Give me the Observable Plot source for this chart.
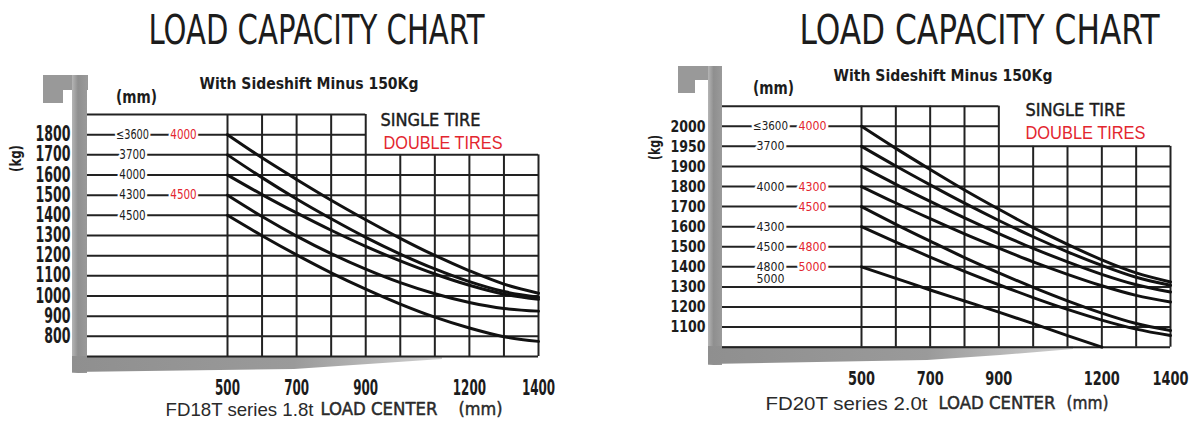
<!DOCTYPE html>
<html><head><meta charset="utf-8">
<script src="https://cdn.jsdelivr.net/npm/d3@7"></script>
<script src="https://cdn.jsdelivr.net/npm/@observablehq/plot@0.6"></script>
<style>
body{margin:0;background:#fff;}
#wrap{position:relative;width:1192px;height:421px;overflow:hidden;background:#fff;}
.panel{position:absolute;top:0;width:596px;height:421px;}
.panel svg{position:absolute;left:0;top:0;}
.g{position:absolute;background:#999;}
</style></head><body><div id="wrap">
<div class="g" style="left:43px;top:75px;width:45px;height:15px"></div>
<div class="g" style="left:43px;top:75px;width:20px;height:28px"></div>
<div class="g" style="left:72px;top:75px;width:15px;height:298px;background:linear-gradient(90deg,#b5b5b5,#8f8f8f 40%,#9a9a9a)"></div>
<div class="g" style="left:72px;top:356px;width:370px;height:16px;background:linear-gradient(90deg,#8f8f8f,#9a9a9a 60%,#d0d0d0);clip-path:polygon(0 0,100% 0,100% 3px,80% 8px,60% 13px,0 16px)"></div>
<div class="g" style="left:678px;top:66px;width:44px;height:14px"></div>
<div class="g" style="left:678px;top:66px;width:17px;height:27px"></div>
<div class="g" style="left:708px;top:66px;width:14px;height:299px;background:linear-gradient(90deg,#b5b5b5,#8f8f8f 40%,#9a9a9a)"></div>
<div class="g" style="left:708px;top:346px;width:365px;height:18px;background:linear-gradient(90deg,#8f8f8f,#9a9a9a 60%,#d0d0d0);clip-path:polygon(0 0,100% 0,100% 3px,80% 9px,60% 14px,0 18px)"></div>
<div class="panel" id="p1" style="left:0"></div>
<div class="panel" id="p2" style="left:596px"></div>
</div>
<script>
const COND = "'DejaVu Sans Condensed','DejaVu Sans',sans-serif";
const ARIAL = "'Liberation Sans',Arial,sans-serif";
const RED = "#e3262f";
const INK = "#1c1c1c";

// ---- data ----
const loadCenters = [500, 600, 700, 800, 900, 1000, 1100, 1200, 1300, 1400];

// FD18T series 1.8t (kg)
const fd18Mast3600 = [1800, 1685, 1578, 1475, 1378, 1286, 1201, 1125, 1059, 1014];
const fd18Mast3700 = [1700, 1587, 1481, 1383, 1291, 1208, 1134, 1071, 1022, 994];
const fd18Mast4000 = [1600, 1503, 1412, 1326, 1246, 1174, 1109, 1053, 1009, 984];
const fd18Mast4300 = [1500, 1394, 1297, 1210, 1133, 1066, 1011, 968, 938, 925];
const fd18Mast4500 = [1400, 1299, 1204, 1115, 1034, 960, 895, 841, 798, 775];

// FD20T series 2.0t (kg)
const fd20Mast3600 = [2000, 1945, 1885, 1783, 1687, 1595, 1512, 1435, 1370, 1325];
const fd20Mast3700 = [1950, 1901, 1808, 1717, 1631, 1550, 1475, 1407, 1348, 1308];
const fd20Row1900 = [1900, 1811, 1726, 1644, 1566, 1492, 1425, 1363, 1311, 1275];
const fd20Mast4000 = [1800, 1718, 1640, 1564, 1493, 1425, 1363, 1306, 1258, 1225];
const fd20Mast4500 = [1700, 1612, 1528, 1446, 1370, 1298, 1231, 1170, 1118, 1083];
const fd20Mast4300 = [1600, 1523, 1449, 1378, 1311, 1247, 1188, 1135, 1090, 1058];
const fd20Mast4800 = [1400, 1343, 1285, 1230, 1175, 1117, 1058, 1000]; // 500..1200

// grids
const fd18RowsUpper = [1800, 1900];
const fd18RowsLower = [700, 800, 900, 1000, 1100, 1200, 1300, 1400, 1500, 1600, 1700];
const fd20Rows = [1000, 1100, 1200, 1300, 1400, 1500, 1600, 1700, 1800, 1900, 1950, 2000, 2050];
const fd20RowsUpper = [2000, 2050];
const fd20RowsLower = [1000, 1100, 1200, 1300, 1400, 1500, 1600, 1700, 1800, 1900, 1950];
const colsTall = [500, 600, 700, 800, 900];
const colsShort = [1000, 1100, 1200, 1300, 1400];

// tick labels
const fd18YTicks = [800, 900, 1000, 1100, 1200, 1300, 1400, 1500, 1600, 1700, 1800];
const fd20YTicks = [1100, 1200, 1300, 1400, 1500, 1600, 1700, 1800, 1900, 1950, 2000];
const xTickLabels = [500, 700, 900, 1200, 1400];

// mast height labels (mm)
const fd18LabelRows = [1800, 1700, 1600, 1500, 1400];
const fd18Single = ["≤3600", "3700", "4000", "4300", "4500"];
const fd18Double = ["4000", "", "", "4500", ""];
const fd20LabelRows = [2000, 1950, 1800, 1700, 1600, 1500, 1400];
const fd20Single = ["≤3600", "3700", "4000", "", "4300", "4500", "4800"];
const fd20Double = ["4000", "", "4300", "4500", "", "4800", "5000"];
const fd20Extra = ["5000"];

function tidy(series) {
  const out = [];
  for (const [name, vals] of series) vals.forEach((v, i) => out.push({mast: name, mm: loadCenters[i], kg: v}));
  return out;
}
const fd18Lines = tidy([["3600", fd18Mast3600], ["3700", fd18Mast3700], ["4000", fd18Mast4000], ["4300", fd18Mast4300], ["4500", fd18Mast4500]]);
const fd20Lines = tidy([["3600", fd20Mast3600], ["3700", fd20Mast3700], ["1900", fd20Row1900], ["4000", fd20Mast4000], ["4500", fd20Mast4500], ["4300", fd20Mast4300], ["4800", fd20Mast4800]]);

const grid = {stroke: "#222", strokeWidth: 2};
const lab = (rows, texts) => rows.map((r, i) => ({kg: r, t: texts[i]})).filter(d => d.t);

function build(o) {
  const fl = o.frameLeft, ft = o.frameTop;
  const xOpts = {domain: [500, 1400], range: o.xRange};
  const gridStart = Plot.scale({x: xOpts}).invert(fl);
  const B = "bold";
  const thick = {stroke: "#2a2a2a", strokeWidth: 0.45};
  return Plot.plot({
    width: 596, height: 421,
    marginLeft: fl, marginRight: 596 - o.frameRight, marginTop: ft, marginBottom: 421 - o.frameBottom,
    x: {...xOpts, axis: null},
    y: o.y,
    style: "background:transparent;overflow:visible;",
    marks: [
      Plot.ruleY(o.rowsUpper, {x1: gridStart, x2: 900, ...grid}),
      Plot.ruleY(o.rowsLower, {x1: gridStart, x2: 1400, ...grid}),
      Plot.ruleX(colsTall, {y1: o.yMin, y2: o.yTop, ...grid}),
      Plot.ruleX(colsShort, {y1: o.yMin, y2: o.yMid, ...grid}),
      Plot.text(lab(o.labelRows, o.single), {y: "kg", text: "t", frameAnchor: "left", dx: o.singleDx, textAnchor: "middle", lineAnchor: "middle", fontSize: o.lblFont, fontFamily: COND, fill: INK, stroke: "white", strokeWidth: 5, ariaDescription: "cw:" + o.lblCw}),
      Plot.text(lab(o.labelRows, o.double), {y: "kg", text: "t", frameAnchor: "left", dx: o.doubleDx, textAnchor: "middle", lineAnchor: "middle", fontSize: o.lblFont, fontFamily: COND, fill: RED, stroke: "white", strokeWidth: 5, ariaDescription: "cw:" + o.lblCw}),
      ...(o.extra || []),
      Plot.line(o.lines, {x: "mm", y: "kg", z: "mast", curve: "monotone-x", stroke: "#111", strokeWidth: 3}),
      Plot.text(o.yTicks, {y: d => d, text: d => String(d), frameAnchor: "left", dx: -17, textAnchor: "end", lineAnchor: "middle", fontSize: o.yFont, fontWeight: B, fontFamily: COND, fill: INK, ariaDescription: "cw:" + o.yCw}),
      Plot.text(xTickLabels, {x: d => d, text: d => String(d), frameAnchor: "bottom", dy: o.xDy, textAnchor: "middle", lineAnchor: "middle", fontSize: o.xFont, fontWeight: B, fontFamily: COND, fill: INK, ariaDescription: "cw:" + o.xCw}),
      Plot.text(["LOAD CAPACITY CHART"], {frameAnchor: "top-left", dx: o.title[0] - fl, dy: o.title[1] - ft, textAnchor: "middle", lineAnchor: "middle", fontSize: 41, fontFamily: COND, fill: INK, ariaDescription: "w:" + o.title[2]}),
      Plot.text(["With Sideshift Minus 150Kg"], {frameAnchor: "top-left", dx: o.sub[0] - fl, dy: o.sub[1] - ft, textAnchor: "start", lineAnchor: "middle", fontSize: 16, fontWeight: B, fontFamily: COND, fill: INK, ariaDescription: "w:" + o.sub[2]}),
      Plot.text(["(mm)"], {frameAnchor: "top-left", dx: o.mm[0] - fl, dy: o.mm[1] - ft, textAnchor: "middle", lineAnchor: "middle", fontSize: 17, fontWeight: B, fontFamily: COND, fill: INK, ariaDescription: "w:" + o.mm[2]}),
      Plot.text(["(kg)"], {frameAnchor: "top-left", dx: o.kg[0] - fl, dy: o.kg[1] - ft, rotate: -90, textAnchor: "middle", lineAnchor: "middle", fontSize: 16, fontWeight: B, fontFamily: COND, fill: INK, ariaDescription: "w:" + o.kg[2]}),
      Plot.text(["SINGLE TIRE"], {frameAnchor: "top-left", dx: o.single1[0] - fl, dy: o.single1[1] - ft, textAnchor: "start", lineAnchor: "middle", fontSize: 18, fontFamily: COND, fill: INK, ...thick, ariaDescription: "w:" + o.single1[2]}),
      Plot.text(["DOUBLE TIRES"], {frameAnchor: "top-left", dx: o.double1[0] - fl, dy: o.double1[1] - ft, textAnchor: "start", lineAnchor: "middle", fontSize: 18, fontFamily: ARIAL, fill: RED, ariaDescription: "w:" + o.double1[2]}),
      Plot.text([o.series], {frameAnchor: "top-left", dx: o.cap1[0] - fl, dy: o.cap1[1] - ft, textAnchor: "start", lineAnchor: "middle", fontSize: 19, fontFamily: ARIAL, fill: "#2a2a2a", ariaDescription: "w:" + o.cap1[2]}),
      Plot.text(["LOAD CENTER"], {frameAnchor: "top-left", dx: o.cap2[0] - fl, dy: o.cap2[1] - ft, textAnchor: "start", lineAnchor: "middle", fontSize: 18, fontFamily: COND, fill: "#2a2a2a", ...thick, ariaDescription: "w:" + o.cap2[2]}),
      Plot.text(["(mm)"], {frameAnchor: "top-left", dx: o.cap3[0] - fl, dy: o.cap3[1] - ft, textAnchor: "start", lineAnchor: "middle", fontSize: 18, fontFamily: COND, fill: "#2a2a2a", ...thick, ariaDescription: "w:" + o.cap3[2]})
    ]
  });
}

const leftSvg = build({
  frameLeft: 87, frameTop: 114, frameRight: 538, frameBottom: 356,
  xRange: [227, 538],
  y: {domain: [700, 1900], range: [356, 114], axis: null},
  yMin: 700, yTop: 1900, yMid: 1700,
  rowsUpper: fd18RowsUpper, rowsLower: fd18RowsLower,
  labelRows: fd18LabelRows, single: fd18Single, double: fd18Double,
  singleDx: 45, doubleDx: 96, lblFont: 13.5, lblCw: 6.6,
  lines: fd18Lines,
  yTicks: fd18YTicks, yFont: 20.5, yCw: 8.75,
  xDy: 31, xFont: 22, xCw: 8.3,
  title: [316, 30, 336], sub: [199, 83, 219], mm: [136, 97, 41], kg: [15, 158, 27],
  single1: [380, 120, 100], double1: [383, 143, 119],
  series: "FD18T series 1.8t", cap1: [165, 409, 148], cap2: [320, 409, 117], cap3: [458, 409, 44]
});

const fd20Range = fd20Rows.map((d, i) => 346.7 - i * (241 / 12));
const rightSvg = build({
  frameLeft: 126, frameTop: 105.7, frameRight: 574, frameBottom: 346.7,
  xRange: [265, 574],
  y: {type: "linear", domain: fd20Rows, range: fd20Range, axis: null},
  yMin: 1000, yTop: 2050, yMid: 1950,
  rowsUpper: fd20RowsUpper, rowsLower: fd20RowsLower,
  labelRows: fd20LabelRows, single: fd20Single, double: fd20Double,
  singleDx: 48, doubleDx: 90, lblFont: 12.5, lblCw: 7,
  extra: [Plot.text(fd20Extra, {y: () => 1400, text: d => d, frameAnchor: "left", dx: 48, dy: 12, textAnchor: "middle", lineAnchor: "middle", fontSize: 12, fontFamily: COND, fill: INK, ariaDescription: "cw:7"})],
  lines: fd20Lines,
  yTicks: fd20YTicks, yFont: 16.5, yCw: 8.75,
  xDy: 31, xFont: 20, xCw: 9,
  title: [979 - 596, 30, 360], sub: [833 - 596, 75, 219], mm: [773 - 596, 88, 41], kg: [654 - 596, 147, 25],
  single1: [1025 - 596, 110, 100], double1: [1025 - 596, 133, 120],
  series: "FD20T series 2.0t", cap1: [765 - 596, 403, 162], cap2: [938 - 596, 403, 117], cap3: [1066 - 596, 403, 42]
});

document.getElementById("p1").appendChild(leftSvg);
document.getElementById("p2").appendChild(rightSvg);

function squish(svg) {
  svg.querySelectorAll("g[aria-description]").forEach(g => {
    const m = g.getAttribute("aria-description").match(/^(cw|w):([\d.]+)$/);
    if (!m) return;
    g.querySelectorAll("text").forEach(t => {
      const target = m[1] === "cw" ? parseFloat(m[2]) * [...t.textContent].length : parseFloat(m[2]);
      t.setAttribute("textLength", target);
      t.setAttribute("lengthAdjust", "spacingAndGlyphs");
    });
  });
}
squish(leftSvg);
squish(rightSvg);
</script></body></html>
